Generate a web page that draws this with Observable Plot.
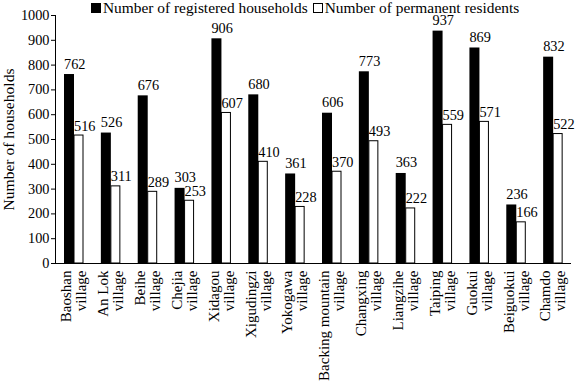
<!DOCTYPE html>
<html>
<head>
<meta charset="utf-8">
<script src="https://cdn.jsdelivr.net/npm/d3@7"></script>
<script src="https://cdn.jsdelivr.net/npm/@observablehq/plot@0.6"></script>
<style>
  html, body { margin: 0; padding: 0; background: #fff; overflow: hidden; }
  #wrap { position: relative; width: 576px; height: 381px; font-family: 'Liberation Serif', 'Times New Roman', serif; }
  #chart svg { display: block; }
  #legend { position: absolute; left: 91px; top: 0px; font-size: 15.4px; line-height: 15px; display: flex; align-items: center; white-space: nowrap; }
  .sw { display: inline-block; width: 10px; height: 10px; box-sizing: border-box; border: 1px solid #000; margin-right: 2px; }
  .item { display: flex; align-items: center; margin-right: 5px; }
</style>
</head>
<body>
<div id="wrap">
  <div id="chart"></div>
  <div id="legend"></div>
</div>
<script>
const villages = ["Baoshan","An Lok","Beihe","Chejia","Xidagou","Xigudingzi","Yokogawa","Backing mountain","Changxing","Liangzihe","Taiping","Guokui","Beiguokui","Chamdo"];
const registered = [762,526,676,303,906,680,361,606,773,363,937,869,236,832];
const permanent = [516,311,289,253,607,410,228,370,493,222,559,571,166,522];
const yTicks = [0,100,200,300,400,500,600,700,800,900,1000];
const seriesNames = ["Number of registered households", "Number of permanent residents"];
const yLabel = "Number of households";

const data = villages.map((v, i) => ({name: v, reg: registered[i], perm: permanent[i]}));

const W = 576, H = 381, mL = 55, mR = 5, mT = 15, mB = 118;
const step = (W - mL - mR) / villages.length;
const numSize = 14.3, tickTextSize = 15;

const chart = Plot.plot({
  width: W, height: H,
  marginLeft: mL, marginRight: mR, marginTop: mT, marginBottom: mB,
  style: {fontFamily: "'Liberation Serif', 'Times New Roman', serif", fontSize: "14px", color: "#000", background: "#fff", overflow: "visible"},
  x: {domain: villages, padding: 0, round: false, label: null},
  y: {domain: [0, 1000], label: null},
  marks: [
    Plot.barY(data, {x: "name", y: "reg", fill: "black", insetLeft: 9, insetRight: step - 19}),
    Plot.barY(data, {x: "name", y: "perm", fill: "white", stroke: "black", strokeWidth: 1, insetLeft: 19, insetRight: step - 28}),
    Plot.text(data, {x: "name", y: "reg", text: d => String(d.reg), textAnchor: "start", lineAnchor: "bottom", dx: 8.5 - step / 2, dy: -6, fill: "black", fontSize: numSize}),
    Plot.text(data, {x: "name", y: "perm", text: d => String(d.perm), textAnchor: "start", lineAnchor: "bottom", dx: 18.5 - step / 2, dy: -5, fill: "black", fontSize: numSize}),
    Plot.ruleY([0], {stroke: "black"}),
    Plot.frame({anchor: "left", stroke: "black"}),
    Plot.axisY({ticks: yTicks, tickFormat: d => String(d), tickSize: 4, tickPadding: 2, label: null, fontSize: numSize}),
    Plot.axisX({tickRotate: -90, tickSize: 0, tickPadding: 7, label: null, textAnchor: "end", lineAnchor: "middle", lineHeight: 1.0, fontSize: tickTextSize, tickFormat: d => d + "\nvillage"}),
    Plot.text([yLabel], {text: d => d, frameAnchor: "left", textAnchor: "middle", lineAnchor: "middle", rotate: -90, dx: -47, fontSize: 15.6})
  ]
});
document.getElementById("chart").appendChild(chart);

const legend = document.getElementById("legend");
const fills = ["#000", "#fff"];
seriesNames.forEach((s, i) => {
  const it = document.createElement("span");
  it.className = "item";
  const sw = document.createElement("span");
  sw.className = "sw";
  sw.style.background = fills[i];
  it.appendChild(sw);
  it.appendChild(document.createTextNode(s));
  legend.appendChild(it);
});
</script>
</body>
</html>
